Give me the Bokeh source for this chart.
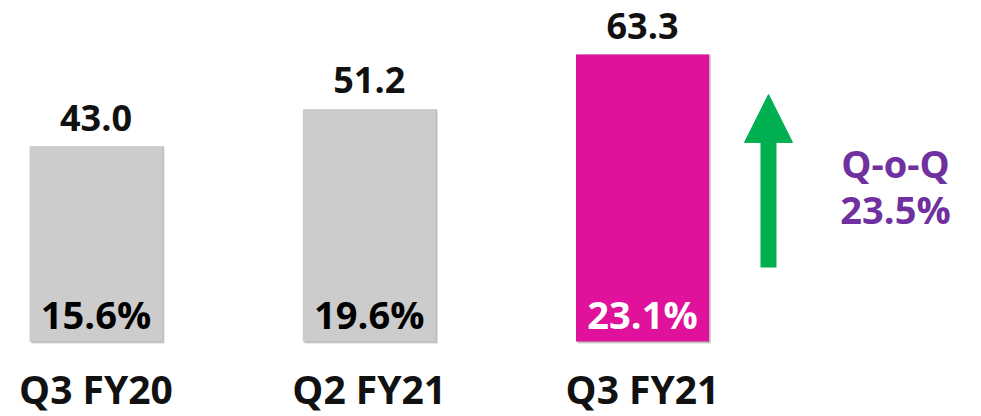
from bokeh.plotting import figure
from bokeh.models import Range1d, Arrow, NormalHead, ColumnDataSource
from bokeh.core.properties import value
from bokeh.embed import file_html
from bokeh.resources import INLINE

# ---- data ----
categories = ["Q3 FY20", "Q2 FY21", "Q3 FY21"]
revenue = [43.0, 51.2, 63.3]
revenue_labels = ["43.0", "51.2", "63.3"]
margin_labels = ["15.6%", "19.6%", "23.1%"]
bar_colors = ["#CCCCCC", "#CCCCCC", "#E0119A"]
margin_colors = ["#000000", "#000000", "#FFFFFF"]
qoq_lines = ["Q-o-Q", "23.5%"]

FONT = value("Open Sans")
W, H = 981, 416
px_per_unit_x = 273.25
px_per_unit_y = 4.533
zero_px = 341  # from top

x0 = -95.5 / px_per_unit_x
y0 = -(H - zero_px) / px_per_unit_y
p = figure(width=W, height=H, output_backend="svg", toolbar_location=None,
           x_range=Range1d(x0, x0 + W / px_per_unit_x),
           y_range=Range1d(y0, y0 + H / px_per_unit_y),
           min_border=0, outline_line_color=None)
p.axis.visible = False
p.grid.visible = False
p.background_fill_color = "white"

xs = list(range(len(categories)))
src = ColumnDataSource(dict(x=xs, top=revenue, cat=categories, rl=revenue_labels,
                            ml=margin_labels, color=bar_colors, mcolor=margin_colors))

bw = 133 / px_per_unit_x
# soft shadow
dx = 2 / px_per_unit_x
dy = 2 / px_per_unit_y
sh = ColumnDataSource(dict(x=[v + dx for v in xs], top=revenue))
p.vbar(x="x", top="top", bottom=-dy, width=bw, source=sh, fill_color="#888888",
       fill_alpha=0.35, line_color=None)
sh2 = ColumnDataSource(dict(x=[v + dx * 0.5 for v in xs], top=revenue))
p.vbar(x="x", top="top", bottom=-dy * 0.5, width=bw, source=sh2, fill_color="#999999",
       fill_alpha=0.5, line_color=None)

p.vbar(x="x", top="top", bottom=0, width=bw, source=src, fill_color="color",
       line_color=None)

p.text(x="x", y="top", text="rl", source=src, text_font=FONT, text_font_style="bold",
       text_font_size="36px", text_align="center", text_baseline="middle",
       y_offset=-29, text_color="#111111")
p.text(x="x", y=0, text="ml", source=src, text_font=FONT, text_font_style="bold",
       text_font_size="38px", text_align="center", text_baseline="middle",
       y_offset=-28, text_color="mcolor")
p.text(x="x", y=0, text="cat", source=src, text_font=FONT, text_font_style="bold",
       text_font_size="39px", text_align="center", text_baseline="middle",
       y_offset=47, text_color="#111111")

# growth arrow
ax = xs[-1] + 126 / px_per_unit_x
p.add_layout(Arrow(x_start=ax, y_start=16.3, x_end=ax, y_end=54.5,
                   line_color="#00B050", line_width=16,
                   end=NormalHead(size=48, fill_color="#00B050", line_color="#00B050")))

tx = xs[-1] + 253 / px_per_unit_x
p.text(x=[tx, tx], y=[39.3, 29.3], text=qoq_lines, text_font=FONT,
       text_font_style="bold", text_font_size="38px", text_align="center",
       text_baseline="middle", text_color="#7030A0")

open("out.html", "w").write(file_html(p, INLINE))
